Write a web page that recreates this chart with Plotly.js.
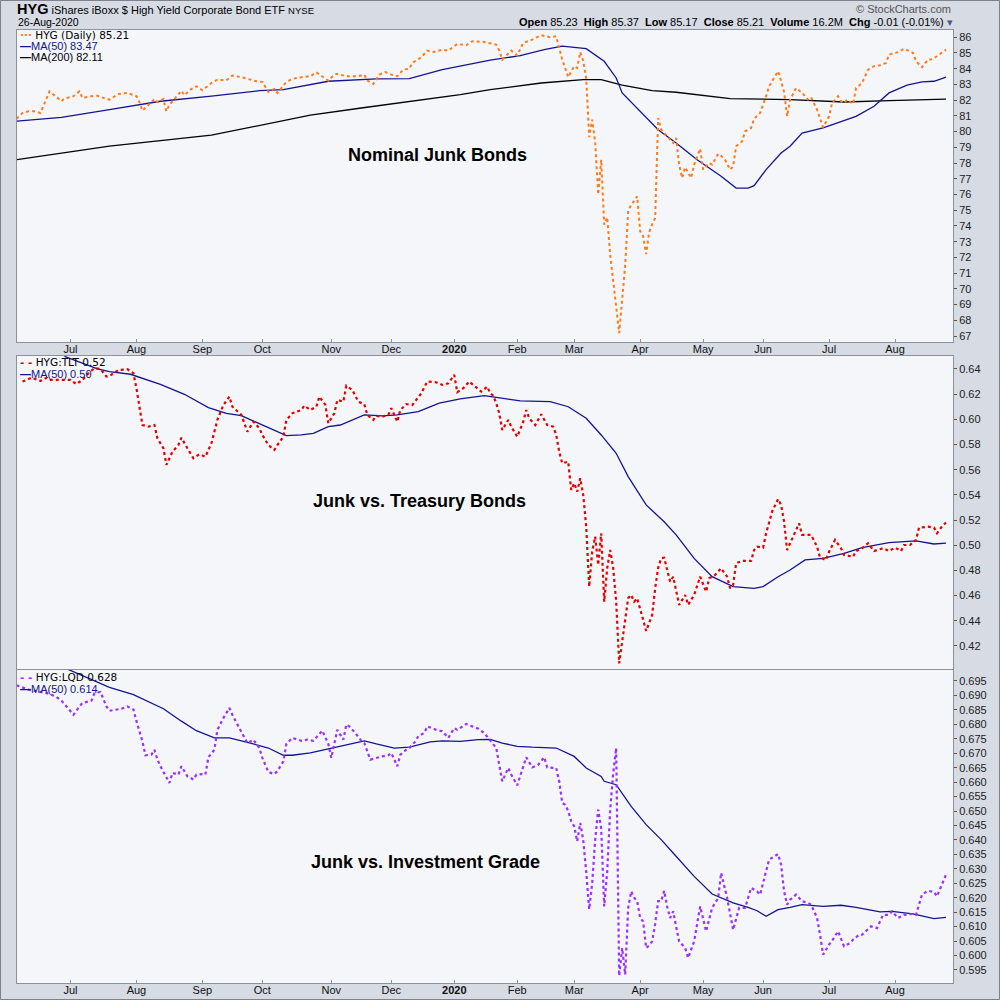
<!DOCTYPE html>
<html><head><meta charset="utf-8">
<script src="https://cdn.plot.ly/plotly-3.0.1.min.js"></script>
<style>html,body{margin:0;padding:0;background:#d6dbe4;}#chart{width:1000px;height:1000px;}</style>
</head><body><div id="chart"></div>
<script>
// ---------- Panel 1: HYG daily close ----------
const hygDates = ['2019-06-05','2019-06-07','2019-06-11','2019-06-13','2019-06-17','2019-06-18','2019-06-20','2019-06-24','2019-06-26','2019-06-27',
'2019-07-02','2019-07-05','2019-07-08','2019-07-11','2019-07-15','2019-07-18','2019-07-19','2019-07-24','2019-07-29','2019-08-01','2019-08-02','2019-08-05',
'2019-08-07','2019-08-09','2019-08-12','2019-08-14','2019-08-15','2019-08-16','2019-08-20','2019-08-22','2019-08-23','2019-08-27','2019-08-29','2019-09-03',
'2019-09-06','2019-09-10','2019-09-13','2019-09-17','2019-09-20','2019-09-24','2019-09-27','2019-10-01','2019-10-03','2019-10-07','2019-10-08','2019-10-11',
'2019-10-15','2019-10-18','2019-10-23','2019-10-25','2019-10-29','2019-10-31','2019-11-04','2019-11-05','2019-11-08','2019-11-14','2019-11-18','2019-11-19',
'2019-11-21','2019-11-25','2019-11-27','2019-12-02','2019-12-04','2019-12-06','2019-12-10','2019-12-11','2019-12-16','2019-12-18','2019-12-20','2019-12-26',
'2019-12-30','2020-01-03','2020-01-08','2020-01-10','2020-01-16','2020-01-21','2020-01-23','2020-01-24','2020-01-27','2020-01-30','2020-02-03','2020-02-05',
'2020-02-10','2020-02-13','2020-02-19','2020-02-21','2020-02-25','2020-02-27','2020-03-02','2020-03-03','2020-03-04','2020-03-05','2020-03-06','2020-03-09',
'2020-03-10','2020-03-11','2020-03-12','2020-03-13','2020-03-16','2020-03-17','2020-03-18','2020-03-19','2020-03-20','2020-03-23','2020-03-24','2020-03-25',
'2020-03-26','2020-03-27','2020-03-30','2020-03-31','2020-04-01','2020-04-02','2020-04-03','2020-04-06','2020-04-07','2020-04-08','2020-04-09','2020-04-13',
'2020-04-15','2020-04-17','2020-04-20','2020-04-21','2020-04-22','2020-04-23','2020-04-27','2020-04-28','2020-04-30','2020-05-01','2020-05-05','2020-05-06',
'2020-05-08','2020-05-12','2020-05-14','2020-05-15','2020-05-18','2020-05-20','2020-05-21','2020-05-26','2020-05-27','2020-05-29','2020-06-02','2020-06-03',
'2020-06-04','2020-06-08','2020-06-09','2020-06-10','2020-06-11','2020-06-12','2020-06-16','2020-06-18','2020-06-22','2020-06-23','2020-06-25','2020-06-26',
'2020-06-29','2020-07-01','2020-07-02','2020-07-07','2020-07-08','2020-07-09','2020-07-10','2020-07-14','2020-07-15','2020-07-17','2020-07-21','2020-07-23',
'2020-07-27','2020-07-29','2020-07-30','2020-08-04','2020-08-06','2020-08-11','2020-08-12','2020-08-14','2020-08-18','2020-08-19','2020-08-21','2020-08-26'];
const hygClose = [80.82,81.18,81.29,81.29,81.18,81.61,82.56,82.25,81.93,82.10,
82.25,82.56,82.14,82.25,82.28,82.07,82.03,82.39,82.46,82.25,81.88,81.33,
81.71,82.07,81.88,82.07,81.29,81.71,82.14,82.60,82.31,82.67,82.88,82.63,
83.09,83.30,83.26,83.56,83.46,83.35,83.20,83.16,82.52,82.71,82.46,83.16,
83.35,83.46,83.52,83.77,83.52,83.24,83.62,83.67,83.52,83.52,83.62,83.24,
83.03,83.62,83.79,83.62,83.52,83.94,84.00,84.37,84.73,85.15,85.06,85.21,
85.15,85.57,85.49,85.75,85.70,85.60,85.53,85.15,84.58,85.15,84.85,85.64,
85.85,86.13,86.00,86.06,84.58,83.46,84.16,84.05,85.05,84.50,83.40,79.65,
80.76,79.30,76.00,78.21,74.08,74.55,72.17,70.50,68.70,67.19,69.30,71.50,
74.97,75.35,75.60,75.89,73.66,73.34,72.21,73.60,74.10,74.50,80.87,80.12,
79.70,79.28,79.59,77.90,77.05,77.73,77.05,77.90,78.91,77.58,78.00,77.90,
78.58,78.32,77.58,77.79,79.07,79.38,80.02,80.23,80.82,81.18,82.25,82.88,
83.20,83.84,83.20,82.52,80.97,82.03,82.77,82.46,82.03,82.18,81.39,80.76,
80.27,80.97,81.82,82.25,81.93,81.82,82.03,81.76,82.77,83.09,83.94,84.16,
84.22,84.37,84.90,85.05,85.27,85.00,84.47,84.09,84.58,84.58,84.79,85.21];

const hygMa50Dates = ['2019-06-05','2019-06-26','2019-07-19','2019-08-13','2019-09-06','2019-09-30','2019-10-10','2019-10-31','2019-11-22','2019-12-10',
'2019-12-26','2020-01-21','2020-02-04','2020-02-14','2020-02-25','2020-03-06','2020-03-16','2020-03-20','2020-03-24','2020-03-31','2020-04-09','2020-04-20',
'2020-04-29','2020-05-11','2020-05-18','2020-05-22','2020-05-27','2020-06-02','2020-06-09','2020-06-12','2020-06-18','2020-06-29','2020-07-08','2020-07-15',
'2020-07-23','2020-07-30','2020-08-07','2020-08-14','2020-08-20','2020-08-26'];
const hygMa50 = [80.66,80.91,81.39,81.93,82.25,82.60,82.67,83.20,83.35,83.37,
83.94,84.54,84.83,85.21,85.43,85.27,84.47,83.41,82.46,81.50,80.12,79.28,
78.21,77.16,76.41,76.41,76.56,77.58,78.64,79.07,79.91,80.23,80.66,80.97,
81.61,82.46,82.95,83.16,83.20,83.46];

const hygMa200Dates = ['2019-06-05','2019-06-26','2019-07-19','2019-09-06','2019-09-30','2019-10-23','2019-11-15','2019-12-10','2020-01-06','2020-01-21',
'2020-02-13','2020-03-05','2020-03-13','2020-03-24','2020-04-07','2020-04-20','2020-05-14','2020-06-12','2020-07-09','2020-07-30','2020-08-26'];
const hygMa200 = [78.21,78.64,79.07,79.77,80.40,81.04,81.50,81.93,82.35,82.67,
83.09,83.30,83.30,82.95,82.60,82.50,82.10,82.03,81.88,81.97,82.07];

// ---------- Panel 2: HYG:TLT ----------
const tltDates = ['2019-06-07','2019-06-12','2019-06-17','2019-06-19','2019-06-20','2019-06-26','2019-07-01','2019-07-03','2019-07-08','2019-07-10',
'2019-07-12','2019-07-16','2019-07-18','2019-07-19','2019-07-24','2019-07-29','2019-07-31','2019-08-01','2019-08-02','2019-08-05','2019-08-07','2019-08-09',
'2019-08-12','2019-08-14','2019-08-15','2019-08-19','2019-08-21','2019-08-22','2019-08-26','2019-08-28','2019-08-30','2019-09-04','2019-09-06','2019-09-10',
'2019-09-12','2019-09-16','2019-09-17','2019-09-20','2019-09-23','2019-09-24','2019-09-26','2019-09-30','2019-10-01','2019-10-03','2019-10-07','2019-10-08',
'2019-10-10','2019-10-11','2019-10-15','2019-10-18','2019-10-21','2019-10-23','2019-10-25','2019-10-28','2019-10-30','2019-10-31','2019-11-04','2019-11-05',
'2019-11-07','2019-11-08','2019-11-12','2019-11-14','2019-11-18','2019-11-19','2019-11-21','2019-11-22','2019-11-26','2019-11-29','2019-12-02','2019-12-04',
'2019-12-05','2019-12-09','2019-12-11','2019-12-13','2019-12-16','2019-12-18','2019-12-23','2019-12-26','2019-12-30','2020-01-02','2020-01-03','2020-01-07',
'2020-01-09','2020-01-13','2020-01-15','2020-01-17','2020-01-21','2020-01-22','2020-01-23','2020-01-24','2020-01-27','2020-01-29','2020-01-30','2020-02-03',
'2020-02-05','2020-02-06','2020-02-07','2020-02-11','2020-02-13','2020-02-18','2020-02-20','2020-02-21','2020-02-24','2020-02-25','2020-02-27','2020-02-28',
'2020-03-02','2020-03-03','2020-03-04','2020-03-05','2020-03-06','2020-03-09','2020-03-10','2020-03-11','2020-03-12','2020-03-13','2020-03-16','2020-03-17',
'2020-03-18','2020-03-19','2020-03-20','2020-03-23','2020-03-24','2020-03-25','2020-03-26','2020-03-27','2020-03-30','2020-03-31','2020-04-01','2020-04-02',
'2020-04-03','2020-04-06','2020-04-07','2020-04-08','2020-04-09','2020-04-13','2020-04-14','2020-04-16','2020-04-17','2020-04-21','2020-04-23','2020-04-24',
'2020-04-28','2020-04-30','2020-05-04','2020-05-05','2020-05-07','2020-05-11','2020-05-13','2020-05-14','2020-05-15','2020-05-18','2020-05-20','2020-05-26',
'2020-05-27','2020-05-28','2020-06-01','2020-06-02','2020-06-04','2020-06-08','2020-06-09','2020-06-10','2020-06-11','2020-06-15','2020-06-17','2020-06-18',
'2020-06-23','2020-06-25','2020-06-26','2020-06-30','2020-07-01','2020-07-06','2020-07-08','2020-07-09','2020-07-14','2020-07-15','2020-07-17','2020-07-21',
'2020-07-23','2020-07-28','2020-07-30','2020-08-03','2020-08-05','2020-08-06','2020-08-10','2020-08-12','2020-08-13','2020-08-18','2020-08-20','2020-08-21',
'2020-08-25','2020-08-26'];
const tltRatio = [0.6300,0.6330,0.6305,0.6330,0.6313,0.6313,0.6313,0.6280,0.6313,0.6366,
0.6406,0.6400,0.6340,0.6344,0.6392,0.6398,0.6366,0.6247,0.6114,0.5955,0.5942,0.5955,
0.5850,0.5770,0.5638,0.5743,0.5796,0.5854,0.5770,0.5691,0.5722,0.5703,0.5810,0.5995,
0.6114,0.6180,0.6100,0.6035,0.5969,0.5902,0.5981,0.5929,0.5876,0.5796,0.5757,0.5796,
0.5862,0.5995,0.6048,0.6074,0.6108,0.6074,0.6100,0.6180,0.6114,0.5969,0.6048,0.6154,
0.6140,0.6267,0.6233,0.6140,0.6120,0.6035,0.5995,0.6027,0.6021,0.6035,0.6088,0.5981,
0.6074,0.6120,0.6114,0.6180,0.6207,0.6300,0.6294,0.6273,0.6286,0.6352,0.6215,0.6247,
0.6300,0.6260,0.6220,0.6260,0.6207,0.6188,0.6128,0.6048,0.5915,0.5995,0.5942,0.5862,
0.5981,0.6074,0.6008,0.5955,0.6040,0.5955,0.5942,0.5876,0.5743,0.5651,0.5664,0.5439,
0.5492,0.5425,0.5532,0.5400,0.5150,0.4671,0.4949,0.5068,0.4843,0.5095,0.4552,0.4817,
0.4962,0.4820,0.4552,0.4062,0.4250,0.4430,0.4580,0.4605,0.4552,0.4579,0.4500,0.4406,
0.4319,0.4380,0.4446,0.4658,0.4820,0.4896,0.4901,0.4711,0.4750,0.4526,0.4605,0.4526,
0.4605,0.4750,0.4631,0.4738,0.4764,0.4817,0.4750,0.4658,0.4684,0.4857,0.4875,0.4875,
0.4962,0.4989,0.4981,0.5095,0.5267,0.5367,0.5320,0.5187,0.4962,0.5068,0.5174,0.5082,
0.5082,0.4989,0.4901,0.4883,0.4949,0.5042,0.4976,0.4923,0.4909,0.4954,0.4976,0.5016,
0.4954,0.4976,0.4954,0.4981,0.4954,0.5002,0.5002,0.5042,0.5140,0.5147,0.5140,0.5095,
0.5161,0.5179];

const tltMaDates = ['2019-06-27','2019-07-15','2019-07-19','2019-07-30','2019-08-13','2019-08-23','2019-09-05','2019-09-13','2019-09-20','2019-10-01',
'2019-10-11','2019-10-18','2019-10-24','2019-10-31','2019-11-06','2019-11-18','2019-11-26','2019-12-04','2019-12-13','2019-12-24','2020-01-06','2020-01-16',
'2020-01-24','2020-01-29','2020-02-04','2020-02-19','2020-02-27','2020-03-06','2020-03-13','2020-03-20','2020-03-26','2020-04-03','2020-04-14','2020-04-20',
'2020-04-28','2020-05-06','2020-05-15','2020-05-27','2020-06-01','2020-06-08','2020-06-12','2020-06-19','2020-06-29','2020-07-09','2020-07-17','2020-07-30',
'2020-08-10','2020-08-12','2020-08-20','2020-08-26'];
const tltMa50 = [0.6500,0.6400,0.6379,0.6358,0.6278,0.6199,0.6093,0.6048,0.6029,0.5955,
0.5870,0.5876,0.5889,0.5942,0.5955,0.6035,0.6027,0.6035,0.6061,0.6128,0.6162,0.6188,
0.6172,0.6159,0.6146,0.6140,0.6100,0.6008,0.5876,0.5730,0.5545,0.5320,0.5187,0.5082,
0.4896,0.4750,0.4671,0.4658,0.4671,0.4750,0.4803,0.4883,0.4896,0.4936,0.4981,0.5020,
0.5028,0.5034,0.5010,0.5016];

// ---------- Panel 3: HYG:LQD ----------
const lqdDates = ['2019-06-05','2019-06-11','2019-06-19','2019-06-24','2019-06-26','2019-06-28','2019-07-02','2019-07-05','2019-07-08','2019-07-11',
'2019-07-12','2019-07-16','2019-07-18','2019-07-19','2019-07-24','2019-07-25','2019-07-29','2019-07-31','2019-08-01','2019-08-05','2019-08-06','2019-08-08',
'2019-08-09','2019-08-12','2019-08-13','2019-08-15','2019-08-16','2019-08-19','2019-08-21','2019-08-22','2019-08-26','2019-08-28','2019-08-29','2019-09-03',
'2019-09-04','2019-09-05','2019-09-09','2019-09-10','2019-09-12','2019-09-16','2019-09-17','2019-09-19','2019-09-23','2019-09-24','2019-09-26','2019-09-30',
'2019-10-01','2019-10-03','2019-10-07','2019-10-08','2019-10-10','2019-10-11','2019-10-15','2019-10-18','2019-10-22','2019-10-24','2019-10-29','2019-10-31',
'2019-11-01','2019-11-04','2019-11-05','2019-11-07','2019-11-08','2019-11-11','2019-11-13','2019-11-15','2019-11-18','2019-11-20','2019-11-22','2019-11-26',
'2019-11-29','2019-12-02','2019-12-04','2019-12-05','2019-12-09','2019-12-10','2019-12-12','2019-12-13','2019-12-17','2019-12-18','2019-12-23','2019-12-26',
'2019-12-30','2020-01-02','2020-01-03','2020-01-08','2020-01-10','2020-01-14','2020-01-16','2020-01-21','2020-01-23','2020-01-24','2020-01-27','2020-01-29',
'2020-01-30','2020-02-03','2020-02-05','2020-02-06','2020-02-10','2020-02-12','2020-02-14','2020-02-18','2020-02-21','2020-02-24','2020-02-25','2020-02-26',
'2020-02-27','2020-02-28','2020-03-02','2020-03-03','2020-03-04','2020-03-05','2020-03-06','2020-03-09','2020-03-10','2020-03-11','2020-03-12','2020-03-13',
'2020-03-16','2020-03-17','2020-03-18','2020-03-19','2020-03-20','2020-03-23','2020-03-24','2020-03-25','2020-03-26','2020-03-27','2020-03-30','2020-03-31',
'2020-04-01','2020-04-02','2020-04-03','2020-04-06','2020-04-07','2020-04-08','2020-04-09','2020-04-13','2020-04-14','2020-04-15','2020-04-16','2020-04-17',
'2020-04-20','2020-04-21','2020-04-23','2020-04-24','2020-04-28','2020-04-30','2020-05-04','2020-05-06','2020-05-08','2020-05-11','2020-05-13','2020-05-15',
'2020-05-19','2020-05-21','2020-05-26','2020-05-28','2020-05-29','2020-06-02','2020-06-03','2020-06-08','2020-06-09','2020-06-10','2020-06-11','2020-06-12',
'2020-06-16','2020-06-18','2020-06-22','2020-06-23','2020-06-25','2020-06-26','2020-06-29','2020-07-01','2020-07-02','2020-07-07','2020-07-08','2020-07-09',
'2020-07-13','2020-07-14','2020-07-16','2020-07-17','2020-07-22','2020-07-24','2020-07-28','2020-07-30','2020-07-31','2020-08-04','2020-08-06','2020-08-11',
'2020-08-12','2020-08-14','2020-08-18','2020-08-20','2020-08-21','2020-08-25','2020-08-26'];
const lqdRatio = [0.6935,0.6920,0.6908,0.6897,0.6882,0.6857,0.6833,0.6862,0.6874,0.6882,
0.6908,0.6912,0.6862,0.6847,0.6851,0.6854,0.6862,0.6851,0.6811,0.6741,0.6693,0.6695,
0.6712,0.6678,0.6655,0.6614,0.6597,0.6632,0.6626,0.6655,0.6620,0.6609,0.6626,0.6628,
0.6626,0.6686,0.6712,0.6781,0.6822,0.6857,0.6833,0.6793,0.6755,0.6735,0.6747,0.6718,
0.6684,0.6635,0.6628,0.6638,0.6672,0.6732,0.6753,0.6743,0.6747,0.6743,0.6778,0.6732,
0.6684,0.6730,0.6781,0.6747,0.6799,0.6793,0.6770,0.6743,0.6735,0.6678,0.6684,0.6689,
0.6693,0.6701,0.6655,0.6695,0.6712,0.6718,0.6741,0.6759,0.6770,0.6793,0.6781,0.6776,
0.6753,0.6787,0.6781,0.6801,0.6793,0.6785,0.6770,0.6745,0.6718,0.6660,0.6603,0.6649,
0.6626,0.6589,0.6649,0.6686,0.6651,0.6660,0.6686,0.6651,0.6649,0.6603,0.6528,0.6522,
0.6500,0.6465,0.6447,0.6395,0.6459,0.6400,0.6290,0.6160,0.6250,0.6400,0.6505,0.6440,
0.6170,0.6290,0.6505,0.6630,0.6718,0.5930,0.6026,0.5934,0.6165,0.6222,0.6200,0.6188,
0.6130,0.6118,0.6026,0.6035,0.6049,0.6110,0.6188,0.6188,0.6224,0.6170,0.6130,0.6153,
0.6100,0.6049,0.6026,0.5992,0.6049,0.6170,0.6084,0.6165,0.6199,0.6286,0.6199,0.6089,
0.6165,0.6165,0.6234,0.6222,0.6211,0.6292,0.6332,0.6351,0.6314,0.6222,0.6176,0.6193,
0.6211,0.6188,0.6182,0.6176,0.6130,0.6072,0.6003,0.6038,0.6051,0.6084,0.6055,0.6032,
0.6043,0.6055,0.6072,0.6072,0.6101,0.6095,0.6141,0.6141,0.6153,0.6130,0.6141,0.6144,
0.6141,0.6211,0.6224,0.6220,0.6205,0.6257,0.6280];

const lqdMaDates = ['2019-06-26','2019-07-16','2019-07-19','2019-07-31','2019-08-09','2019-08-14','2019-08-22','2019-08-29','2019-09-09','2019-09-16',
'2019-09-25','2019-10-03','2019-10-10','2019-10-15','2019-10-23','2019-11-01','2019-11-07','2019-11-18','2019-11-22','2019-12-03','2019-12-10','2019-12-19',
'2019-12-26','2020-01-06','2020-01-14','2020-01-21','2020-01-27','2020-02-03','2020-02-10','2020-02-21','2020-03-02','2020-03-06','2020-03-13','2020-03-16',
'2020-03-20','2020-03-27','2020-04-03','2020-04-13','2020-04-17','2020-04-28','2020-05-06','2020-05-15','2020-05-22','2020-05-28','2020-06-02','2020-06-08',
'2020-06-12','2020-06-18','2020-06-29','2020-07-08','2020-07-15','2020-07-27','2020-07-31','2020-08-11','2020-08-20','2020-08-26'];
const lqdMa50 = [0.7000,0.6943,0.6928,0.6903,0.6868,0.6854,0.6811,0.6778,0.6753,0.6753,
0.6735,0.6718,0.6693,0.6693,0.6701,0.6718,0.6727,0.6743,0.6732,0.6718,0.6721,0.6739,
0.6743,0.6741,0.6747,0.6748,0.6735,0.6724,0.6721,0.6718,0.6689,0.6649,0.6620,0.6603,
0.6591,0.6516,0.6453,0.6401,0.6355,0.6274,0.6213,0.6182,0.6167,0.6155,0.6136,0.6159,
0.6167,0.6176,0.6170,0.6174,0.6167,0.6151,0.6153,0.6144,0.6128,0.6132];

// ---------- Axis labels ----------
const monthTickDates = ['2019-07-01','2019-08-01','2019-09-03','2019-10-01','2019-11-01','2019-12-02','2020-01-02','2020-02-03','2020-03-02','2020-04-01','2020-05-01','2020-06-01','2020-07-01','2020-08-03'];
const monthTickLabels = ['Jul','Aug','Sep','Oct','Nov','Dec','<b>2020</b>','Feb','Mar','Apr','May','Jun','Jul','Aug'];
const marketHolidays = ['2019-07-04','2019-09-02','2019-11-28','2019-12-25','2020-01-01','2020-01-20','2020-02-17','2020-04-10','2020-05-25','2020-07-03'];

const FONT = 'Liberation Sans, Arial, sans-serif';
const VFONT = 'DejaVu Sans, Verdana, sans-serif';
const BLUE = '#14148f';
const traces = [
  {x:hygMa200Dates, y:hygMa200, xaxis:'x', yaxis:'y', mode:'lines', line:{color:'#000000', width:1.3}},
  {x:hygMa50Dates, y:hygMa50, xaxis:'x', yaxis:'y', mode:'lines', line:{color:BLUE, width:1.3}},
  {x:hygDates, y:hygClose, xaxis:'x', yaxis:'y', mode:'lines', line:{color:'#ff7a1a', width:2, dash:'dot'}},
  {x:tltMaDates, y:tltMa50, xaxis:'x2', yaxis:'y2', mode:'lines', line:{color:BLUE, width:1.3}},
  {x:tltDates, y:tltRatio, xaxis:'x2', yaxis:'y2', mode:'lines', line:{color:'#e60000', width:2.2, dash:'dot'}},
  {x:lqdMaDates, y:lqdMa50, xaxis:'x3', yaxis:'y3', mode:'lines', line:{color:BLUE, width:1.3}},
  {x:lqdDates, y:lqdRatio, xaxis:'x3', yaxis:'y3', mode:'lines', line:{color:'#9b30ff', width:2.2, dash:'dot'}}
];

const xBase = () => ({
  type:'date', domain:[0.017,0.953], range:['2019-06-05 04:00','2020-08-28 08:00'],
  rangebreaks:[{bounds:['sat','mon']},{values:marketHolidays}],
  tickmode:'array', tickvals:monthTickDates, ticktext:monthTickLabels,
  showgrid:false, zeroline:false, showline:true, mirror:true, linecolor:'#8b919d', linewidth:1,
  ticks:'inside', ticklen:3, tickcolor:'#8b919d', ticklabelstandoff:-3,
  tickfont:{family:FONT, size:11, color:'#111'}
});
const yBase = () => ({
  side:'right', showgrid:false, zeroline:false, showline:true, mirror:true, linecolor:'#8b919d', linewidth:1,
  ticks:'outside', ticklen:3, tickcolor:'#555', tickfont:{family:FONT, size:11, color:'#222'}, tickmode:'linear'
});

const x1 = Object.assign(xBase(), {anchor:'y'});
const x2 = Object.assign(xBase(), {anchor:'y2', showticklabels:false, ticks:''});
const x3 = Object.assign(xBase(), {anchor:'y3'});
const y1 = Object.assign(yBase(), {anchor:'x', domain:[0.658,0.970], range:[66.62,86.46], tick0:67, dtick:1});
const y2 = Object.assign(yBase(), {anchor:'x2', domain:[0.331,0.644], range:[0.4017,0.6503], tick0:0.42, dtick:0.02, tickformat:'.2f'});
const y3 = Object.assign(yBase(), {anchor:'x3', domain:[0.017,0.330], range:[0.5905,0.6988], tick0:0.595, dtick:0.005, tickformat:'.3f'});

function ann(x, y, text, opts) {
  return Object.assign({xref:'paper', yref:'paper', x:x, y:y, text:text, showarrow:false,
    xanchor:'left', yanchor:'middle', font:{family:FONT, size:11, color:'#000'}}, opts || {});
}
const annotations = [
  ann(0.015, 0.991, '<span style="font-size:14.5px"><b>HYG</b></span> iShares iBoxx $ High Yield Corporate Bond ETF <span style="font-size:9.5px">NYSE</span>', {font:{family:FONT, size:11, color:'#000'}}),
  ann(0.016, 0.978, '26-Aug-2020', {font:{family:FONT, size:10.5, color:'#000'}}),
  ann(0.953, 0.991, '\u00A9 StockCharts.com', {xanchor:'right', font:{family:FONT, size:11, color:'#555'}}),
  ann(0.955, 0.978, '<b>Open</b> 85.23  <b>High</b> 85.37  <b>Low</b> 85.17  <b>Close</b> 85.21  <b>Volume</b> 16.2M  <b>Chg</b> -0.01 (-0.01%) <span style="color:#4a5c86">\u25BE</span>', {xanchor:'right', font:{family:FONT, size:11, color:'#000'}}),
  // panel legends
  ann(0.018, 0.965, '<span style="color:#ff7a1a"><b>\u00B7\u00B7\u00B7</b></span> HYG (Daily) 85.21', {font:{family:VFONT, size:10.5, color:'#000'}}),
  ann(0.018, 0.954, '<b>\u2014</b>MA(50) 83.47', {font:{family:FONT, size:11, color:BLUE}}),
  ann(0.018, 0.943, '<b>\u2014</b>MA(200) 82.11', {font:{family:FONT, size:11, color:'#000'}}),
  ann(0.018, 0.638, '<span style="color:#e60000"><b>- -</b></span> HYG:TLT 0.52', {font:{family:VFONT, size:10.5, color:'#000'}}),
  ann(0.018, 0.626, '<b>\u2014</b>MA(50) 0.50', {font:{family:FONT, size:11, color:BLUE}}),
  ann(0.018, 0.323, '<span style="color:#9b30ff"><b>- -</b></span> HYG:LQD 0.628', {font:{family:VFONT, size:10.5, color:'#000'}}),
  ann(0.018, 0.311, '<b>\u2014</b>MA(50) 0.614', {font:{family:FONT, size:11, color:BLUE}}),
  // panel titles
  ann(0.437, 0.845, '<b>Nominal Junk Bonds</b>', {xanchor:'center', font:{family:FONT, size:18, color:'#000'}}),
  ann(0.419, 0.499, '<b>Junk vs. Treasury Bonds</b>', {xanchor:'center', font:{family:FONT, size:18, color:'#000'}}),
  ann(0.425, 0.138, '<b>Junk vs. Investment Grade</b>', {xanchor:'center', font:{family:FONT, size:18, color:'#000'}})
];

const layout = {
  width:1000, height:1000, margin:{l:0, r:0, t:0, b:0, pad:0},
  paper_bgcolor:'#d6dbe4', plot_bgcolor:'#f5f6fa', showlegend:false,
  font:{family:FONT, size:11, color:'#000'},
  xaxis:x1, xaxis2:x2, xaxis3:x3, yaxis:y1, yaxis2:y2, yaxis3:y3,
  annotations:annotations,
  shapes:[{type:'rect', xref:'paper', yref:'paper', x0:0.0005, x1:0.9995, y0:0.0005, y1:0.9995, line:{color:'#7d828c', width:1}}]
};
Plotly.newPlot('chart', traces, layout, {displayModeBar:false, staticPlot:true});
</script>
</body></html>
